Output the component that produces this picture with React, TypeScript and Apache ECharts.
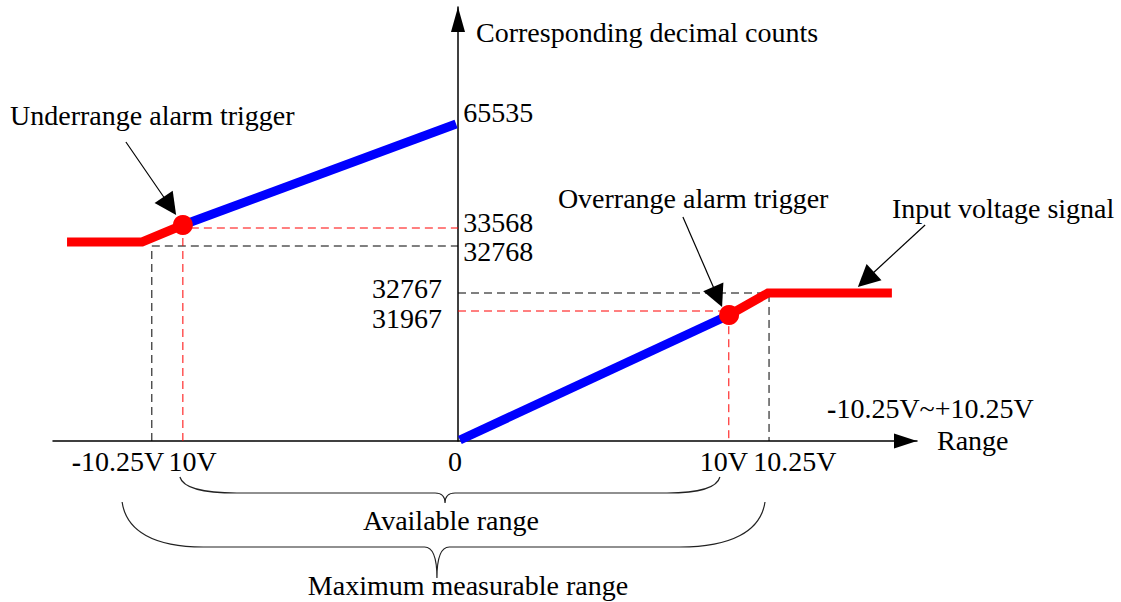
import React, { useEffect, useRef } from "react";
import * as echarts from "echarts";

const FONT = '"Liberation Serif", "Times New Roman", serif';
const FS = 28;

// Schematic coordinates: x ≈ input voltage position, y = schematic count level
const blueRise = [[0.07, 0.1], [10.04, 12.6]];
const blueUpper = [[-10.19, 21.6], [-0.07, 31.7]];
const redUpperClamp = [[10.04, 12.6], [11.48, 14.8], [16.07, 14.8]];
const redLowerClamp = [[-14.48, 19.9], [-11.7, 19.9], [-10.19, 21.6]];
const alarmPoints = [[-10.19, 21.6], [10.04, 12.6]];

const guideBlackLeft = [[-11.34, 0], [-11.34, 19.5], [0, 19.5]];
const guideRedLeft = [[-10.19, 0], [-10.19, 21.3], [0, 21.3]];
const guideBlackRight = [[0, 14.8], [11.52, 14.8], [11.52, 0]];
const guideRedRight = [[0, 13.0], [10.03, 13.0], [10.03, 0]];

const countLabels = ["65535", "33568", "32768", "32767", "31967"];
const countLabelX = [0.19, 0.19, 0.19, -0.59, -0.59];
const countLabelY = [32.9, 21.9, 19.0, 15.3, 12.3];
const countLabelAlign = ["left", "left", "left", "right", "right"];

const voltLabels = ["{bold|-}10.25V", "10V", "0", "10V", "10.25V"];
const voltLabelX = [-12.59, -9.83, -0.11, 9.85, 12.48];
const voltLabelY = [-2.0, -2.0, -2.0, -2.0, -2.0];

const noteTexts = [
  "Corresponding decimal counts",
  "Underrange alarm trigger",
  "Overrange alarm trigger",
  "Input voltage signal",
  "{bold|-}10.25V~+10.25V",
  "Range",
  "Available range",
  "Maximum measurable range",
];
const noteX = [0.667, -16.59, 3.7, 16.07, 13.67, 17.74, -0.26, 0.37];
const noteY = [40.9, 32.6, 24.3, 23.3, 3.3, 0.1, -7.9, -14.4];
const noteAlign = ["left", "left", "left", "left", "left", "left", "center", "center"];

// pointer arrows: [fromX, fromY, tipX, tipY]
const pointerArrows = [
  [-12.3, 29.9, -10.44, 22.6],
  [8.33, 22.4, 9.78, 13.4],
  [17.3, 21.6, 14.81, 15.4],
];

// braces: [leftX, rightX, tipX, endY, barY, tipY, leftCurveEndX, rightCurveStartX]
const braces = [
  [-10.3, 9.7, -0.48, -3.6, -5.2, -6.2, -8.19, 7.74],
  [-12.44, 11.37, -0.78, -6.1, -10.6, -13.7, -9.44, 8.22],
];

const allTexts = [...countLabels, ...voltLabels, ...noteTexts];
const allTextX = [...countLabelX, ...voltLabelX, ...noteX];
const allTextY = [...countLabelY, ...voltLabelY, ...noteY];
const allTextAlign = [...countLabelAlign, "center", "center", "center", "center", "center", ...noteAlign];

export default function App() {
  const ref = useRef<HTMLDivElement>(null);
  useEffect(() => {
    if (!ref.current) return;
    const chart = echarts.init(ref.current, undefined, { renderer: "svg" });

    const lineSeries = (data: number[][], color: string, width: number, dashed: boolean, z: number) => ({
      type: "line",
      data,
      showSymbol: false,
      symbol: "none",
      clip: false,
      silent: true,
      z,
      lineStyle: { color, width, type: dashed ? [8, 5] : "solid", cap: "butt", join: "miter" },
    });

    chart.setOption({
      animation: false,
      backgroundColor: "#ffffff",
      grid: { left: 53, top: 7, width: 864, height: 434 },
      xAxis: {
        type: "value",
        min: -15,
        max: 17,
        axisLine: {
          show: true,
          onZero: true,
          symbol: ["none", "triangle"],
          symbolSize: [15, 23],
          symbolOffset: [0, -11.5],
          lineStyle: { color: "#000", width: 1.5 },
        },
        axisTick: { show: false },
        axisLabel: { show: false },
        splitLine: { show: false },
      },
      yAxis: {
        type: "value",
        min: 0,
        max: 43.4,
        axisLine: {
          show: true,
          onZero: true,
          symbol: ["none", "triangle"],
          symbolSize: [14, 25],
          symbolOffset: [0, -12.5],
          lineStyle: { color: "#000", width: 1.5 },
        },
        axisTick: { show: false },
        axisLabel: { show: false },
        splitLine: { show: false },
      },
      series: [
        lineSeries(guideBlackLeft, "#000000", 1, true, 1),
        lineSeries(guideBlackRight, "#000000", 1, true, 1),
        lineSeries(guideRedLeft, "#ff0000", 1, true, 1),
        lineSeries(guideRedRight, "#ff0000", 1, true, 1),
        lineSeries(blueRise, "#0000ff", 9, false, 3),
        lineSeries(blueUpper, "#0000ff", 9, false, 3),
        lineSeries(redUpperClamp, "#ff0000", 9, false, 4),
        lineSeries(redLowerClamp, "#ff0000", 9, false, 4),
        {
          type: "scatter",
          data: alarmPoints,
          symbolSize: 20,
          clip: false,
          silent: true,
          z: 5,
          itemStyle: { color: "#ff0000", opacity: 1 },
        },
        {
          type: "custom",
          coordinateSystem: "cartesian2d",
          data: pointerArrows,
          encode: { x: [0, 2], y: [1, 3] },
          clip: false,
          silent: true,
          z: 6,
          renderItem: (params: any, api: any) => {
            const p1 = api.coord([api.value(0), api.value(1)]);
            const p2 = api.coord([api.value(2), api.value(3)]);
            const dx = p2[0] - p1[0];
            const dy = p2[1] - p1[1];
            const L = Math.hypot(dx, dy);
            const ux = dx / L;
            const uy = dy / L;
            const hl = 22;
            const hw = 11;
            const bx = p2[0] - ux * hl;
            const by = p2[1] - uy * hl;
            return {
              type: "group",
              children: [
                {
                  type: "line",
                  shape: { x1: p1[0], y1: p1[1], x2: bx + ux * 2, y2: by + uy * 2 },
                  style: { stroke: "#000", lineWidth: 1.2 },
                },
                {
                  type: "polygon",
                  shape: {
                    points: [
                      [p2[0], p2[1]],
                      [bx - uy * hw, by + ux * hw],
                      [bx + uy * hw, by - ux * hw],
                    ],
                  },
                  style: { fill: "#000" },
                },
              ],
            };
          },
        },
        {
          type: "custom",
          coordinateSystem: "cartesian2d",
          data: braces,
          encode: { x: [0, 1, 2, 6, 7], y: [3, 4, 5] },
          clip: false,
          silent: true,
          z: 6,
          renderItem: (params: any, api: any) => {
            const pL = api.coord([api.value(0), api.value(3)]);
            const pR = api.coord([api.value(1), api.value(3)]);
            const pT = api.coord([api.value(2), api.value(5)]);
            const yB = api.coord([0, api.value(4)])[1];
            const cL = api.coord([api.value(6), 0])[0];
            const cR = api.coord([api.value(7), 0])[0];
            const h = yB - pL[1];
            const wL = cL - pL[0];
            const wR = pR[0] - cR;
            const depth = pT[1] - yB;
            const tw = Math.max(10, depth * 0.4);
            const d =
              `M ${pL[0]} ${pL[1]} ` +
              `C ${pL[0] + 0.05 * wL} ${pL[1] + 0.65 * h} ${pL[0] + 0.4 * wL} ${yB} ${cL} ${yB} ` +
              `L ${pT[0] - tw} ${yB} ` +
              `Q ${pT[0]} ${yB} ${pT[0]} ${pT[1]} ` +
              `Q ${pT[0]} ${yB} ${pT[0] + tw} ${yB} ` +
              `L ${cR} ${yB} ` +
              `C ${pR[0] - 0.4 * wR} ${yB} ${pR[0] - 0.05 * wR} ${pR[1] + 0.65 * h} ${pR[0]} ${pR[1]}`;
            return {
              type: "path",
              shape: { pathData: d },
              style: { stroke: "#222", lineWidth: 1.2, fill: "none" },
            };
          },
        },
        {
          type: "custom",
          coordinateSystem: "cartesian2d",
          data: allTextX.map((x, i) => [x, allTextY[i]]),
          encode: { x: 0, y: 1 },
          clip: false,
          silent: true,
          z: 7,
          renderItem: (params: any, api: any) => {
            const p = api.coord([api.value(0), api.value(1)]);
            const i = params.dataIndex;
            return {
              type: "text",
              x: p[0],
              y: p[1],
              style: {
                text: allTexts[i],
                fill: "#000",
                fontFamily: FONT,
                fontSize: FS,
                lineHeight: 25,
                align: allTextAlign[i],
                verticalAlign: "middle",
                rich: {
                  bold: { fontFamily: FONT, fontSize: FS, lineHeight: 25, fontWeight: "bold", fill: "#000" },
                },
              },
            };
          },
        },
      ],
    });
    return () => chart.dispose();
  }, []);
  return (
    <div
      ref={ref}
      style={{ position: "fixed", left: 0, top: 0, width: 1121, height: 602, background: "#fff" }}
    />
  );
}
